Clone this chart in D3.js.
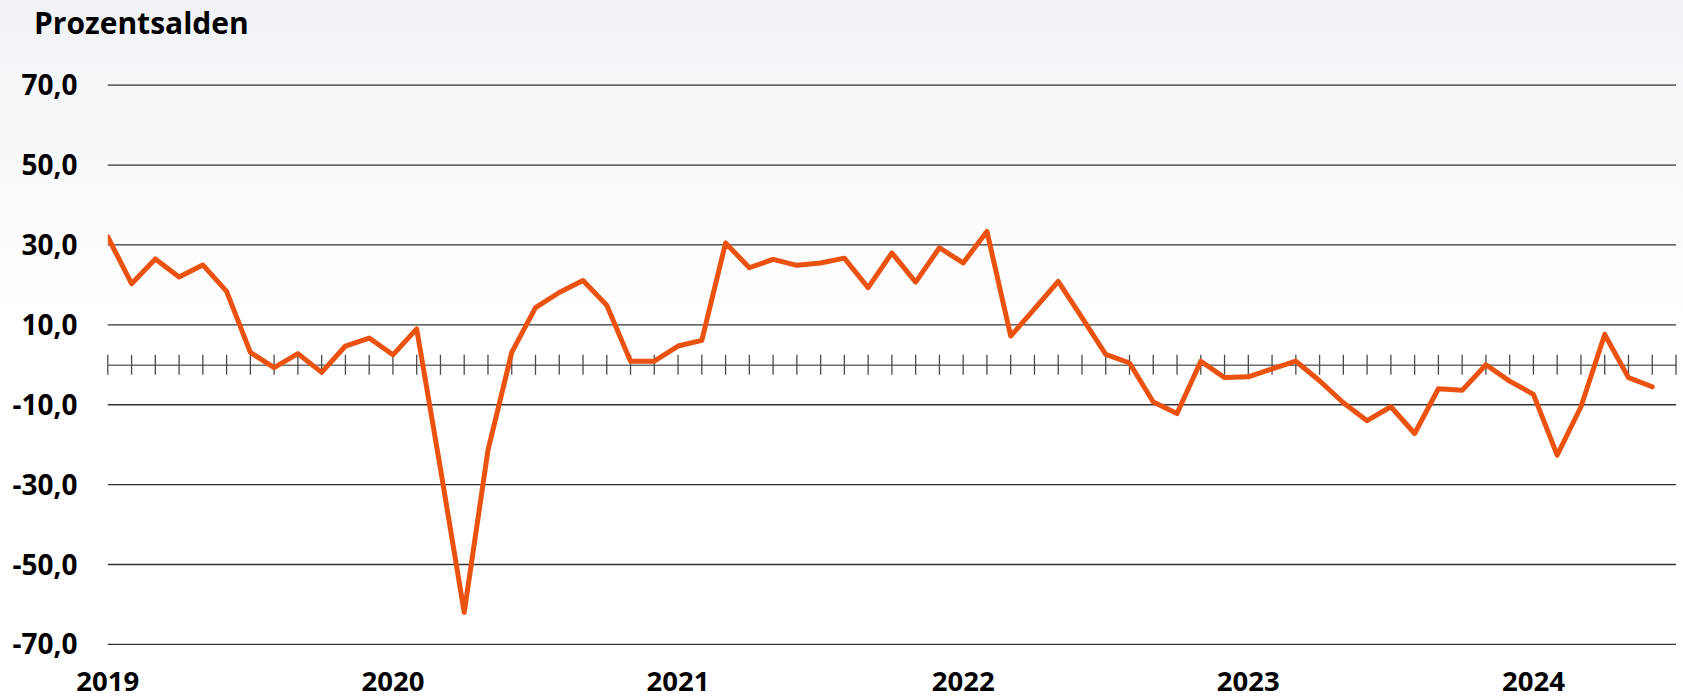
<!DOCTYPE html>
<html>
<head>
<meta charset="utf-8">
<script src="https://cdn.jsdelivr.net/npm/d3@7/dist/d3.min.js"></script>
<style>
  html, body { margin: 0; padding: 0; background: #fff; }
  svg { display: block; }
  text { font-family: "Open Sans", "Noto Sans", sans-serif; font-weight: 700; fill: #000; }
</style>
</head>
<body>
<svg id="chart" width="1683" height="698"></svg>
<script>
// ---- data ----
const title = "Prozentsalden";
const yearLabels = ["2019", "2020", "2021", "2022", "2023", "2024"];
const yTicks = [70, 50, 30, 10, -10, -30, -50, -70];
const values = [
  32.0, 20.3, 26.5, 22.0, 25.0, 18.4, 3.1, -0.7, 2.8, -1.9, 4.7, 6.7,      // 2019
  2.5, 9.0, -26.0, -62.0, -21.4, 3.1, 14.3, 18.1, 21.1, 14.9, 0.9, 0.9,    // 2020
  4.7, 6.1, 30.5, 24.3, 26.4, 24.9, 25.5, 26.7, 19.3, 28.0, 20.7, 29.3,    // 2021
  25.5, 33.4, 7.2, 14.0, 20.9, 11.8, 2.6, 0.45, -9.3, -12.2, 0.9, -3.2,    // 2022
  -3.0, -1.0, 0.9, -4.0, -9.5, -14.0, -10.5, -17.2, -6.0, -6.4, 0.0, -4.1, // 2023
  -7.4, -22.6, -10.5, 7.6, -3.2, -5.5                                      // 2024 (Jan-Jun)
];
const monthCount = 66; // monthly slots on the axis (Jan 2019 .. Jul 2024)

// ---- layout ----
const svg = d3.select("#chart");
const W = 1683, H = 698;
const mLeft = 107.8, mRight = 1676, mTop = 85.2, mBottom = 644.4;

// background gradient
const defs = svg.append("defs");
const grad = defs.append("linearGradient").attr("id", "bg").attr("x1", 0).attr("y1", 0).attr("x2", 0).attr("y2", 1);
grad.append("stop").attr("offset", "0%").attr("stop-color", "#f1f2f6");
grad.append("stop").attr("offset", "45%").attr("stop-color", "#ffffff");
grad.append("stop").attr("offset", "100%").attr("stop-color", "#ffffff");
svg.append("rect").attr("width", W).attr("height", H).attr("fill", "url(#bg)");

defs.append("clipPath").attr("id", "plotclip")
  .append("rect").attr("x", mLeft).attr("y", 0).attr("width", W - mLeft).attr("height", H);

const x = d3.scaleLinear().domain([0, monthCount]).range([mLeft, mRight]);
const y = d3.scaleLinear().domain([-70, 70]).range([mBottom, mTop]);

// gridlines
svg.append("g").selectAll("line").data(yTicks).join("line")
  .attr("x1", mLeft).attr("x2", mRight)
  .attr("y1", d => y(d)).attr("y2", d => y(d))
  .attr("stroke", "#333333").attr("stroke-width", 1.3);

// y labels
svg.append("g").selectAll("text").data(yTicks).join("text")
  .attr("x", 77.5).attr("y", d => y(d)).attr("dy", "0.36em")
  .attr("text-anchor", "end").attr("font-size", 28)
  .text(d => d3.format(".1f")(d).replace(".", ",").replace("\u2212", "-"));

// zero axis with monthly ticks
const xAxis = d3.axisBottom(x)
  .tickValues(d3.range(0, monthCount + 1))
  .tickSize(0).tickFormat("");
const axisG = svg.append("g").attr("transform", `translate(0,${y(0)})`).call(xAxis);
axisG.select(".domain").attr("stroke", "#6e6e6e").attr("stroke-width", 1.6);
svg.append("g").selectAll("line").data(d3.range(0, monthCount + 1)).join("line")
  .attr("x1", d => x(d)).attr("x2", d => x(d))
  .attr("y1", y(0) - 10).attr("y2", y(0) + 10)
  .attr("stroke", "#4a4a4a").attr("stroke-width", 1.3);

// x labels
svg.append("g").selectAll("text").data(yearLabels).join("text")
  .attr("x", (d, i) => x(i * 12)).attr("y", 690.5)
  .attr("text-anchor", "middle").attr("font-size", 27.5)
  .text(d => d);

// title
svg.append("text").attr("x", 34).attr("y", 34).attr("font-size", 30).text(title);

// series line
const line = d3.line().x((d, i) => x(i)).y(d => y(d));
svg.append("path").datum(values)
  .attr("clip-path", "url(#plotclip)")
  .attr("d", line)
  .attr("fill", "none")
  .attr("stroke", "#EB5210")
  .attr("stroke-width", 5)
  .attr("stroke-linejoin", "round")
  .attr("stroke-linecap", "round");
</script>
</body>
</html>
